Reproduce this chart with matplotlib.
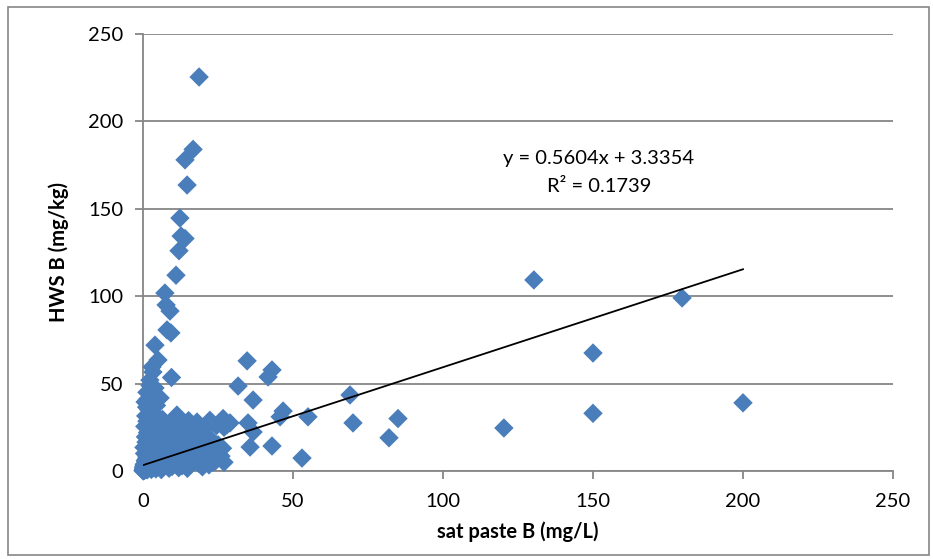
"""
HWS B vs sat paste B scatter with linear trendline
"""

import matplotlib
matplotlib.use('Agg')
import matplotlib.pyplot as plt
from matplotlib.patches import Rectangle
import numpy as np

plt.rcParams['font.family'] = ['Lato', 'DejaVu Sans']

# outlying points
x_out = [18.7, 16.7, 14.0, 14.7, 12.3, 12.7, 14.0, 12.0, 11.0, 7.3, 7.7, 9.0, 8.0, 9.3,
         4.0, 5.0, 3.3, 9.5, 2.3, 5.7, 2.0, 3.0, 2.3, 4.0, 1.3, 0.7,
         130.3, 179.7, 150.0, 150.0, 200.0, 120.3, 82.0, 85.0, 70.0, 69.0, 55.0, 53.0,
         34.7, 43.0, 41.7, 31.7, 36.7, 35.0, 46.7, 45.7, 36.7, 35.7, 43.0]
y_out = [225.4, 184.0, 178.0, 163.6, 144.7, 134.4, 133.0, 126.0, 112.0, 101.8, 95.0, 91.5, 80.7, 79.0,
         72.0, 63.5, 56.6, 53.5, 49.0, 41.8, 37.8, 59.5, 52.0, 47.5, 45.0, 39.5,
         109.3, 99.0, 67.5, 33.0, 39.0, 24.6, 19.0, 30.0, 27.5, 43.5, 31.0, 7.4,
         63.0, 57.8, 53.8, 48.6, 40.6, 27.5, 34.3, 31.0, 22.3, 13.7, 14.3]

# dense cluster near the origin (approximate)
x_clu = [0.1, 0.2, 0.3, 0.4, 0.5, 0.6, 0.7, 0.8, 0.9, 1.0, 1.1, 1.2, 1.3, 1.4, 1.5, 1.6, 1.7, 1.8, 1.9, 2.0,
         2.1, 2.2, 2.3, 2.4, 2.5, 2.6, 2.7, 2.8, 2.9, 3.0, 3.2, 3.4, 3.6, 3.8, 4.0, 4.2, 4.4, 4.6, 4.8, 5.0,
         5.2, 5.4, 5.6, 5.8, 6.0, 6.2, 6.4, 6.6, 6.8, 7.0, 7.3, 7.6, 7.9, 8.2, 8.5, 8.8, 9.1, 9.4, 9.7, 10.0,
         10.3, 10.6, 10.9, 11.2, 11.5, 11.8, 12.1, 12.4, 12.7, 13.0, 13.4, 13.8, 14.2, 14.6, 15.0, 15.4, 15.8,
         16.2, 16.6, 17.0, 17.5, 18.0, 18.5, 19.0, 19.5, 20.0, 20.5, 21.0, 21.5, 22.0, 22.5, 23.0, 24.0, 25.0,
         26.0, 27.0, 28.0, 24.5, 26.5, 29.0,
         0.05, 0.1, 0.15, 0.2, 0.25, 0.3, 0.35, 0.4, 0.5, 0.6, 0.7, 0.8, 0.9, 1.0, 1.2, 1.4, 1.6, 1.8, 2.0, 2.2,
         2.5, 2.8, 3.1, 3.5, 3.9, 4.3, 4.7, 5.1, 5.5, 6.1, 6.7, 7.4, 8.0, 8.7, 9.5, 10.2, 11.0, 11.9, 12.8, 13.7,
         14.8, 15.6, 16.5, 17.8, 18.8, 19.8, 20.8, 21.8, 23.5, 24.8, 22.2, 19.2, 15.2, 12.2, 9.2, 6.5, 3.3, 1.0,
         0.5, 0.8, 0.3, 1.5, 0.6, 1.3, 0.9, 2.0, 1.5, 3.0, 2.2, 1.2, 4.5,
         11.3, 18.0, 22.3, 26.7, 23.3, 27.0]
y_clu = [0.5, 1.2, 2.0, 0.8, 3.1, 1.5, 4.2, 2.6, 5.5, 0.9, 6.8, 3.4, 8.1, 2.2, 9.6, 4.8, 11.2, 1.4, 7.3, 13.0,
         3.0, 15.5, 5.9, 18.0, 2.5, 10.2, 21.0, 6.6, 24.5, 1.8, 12.4, 8.8, 28.0, 4.1, 16.3, 2.9, 31.0, 9.4, 20.5, 5.2,
         13.8, 26.3, 3.6, 17.7, 7.9, 11.0, 22.6, 2.1, 14.9, 6.1, 19.2, 9.9, 3.3, 25.0, 12.0, 5.0, 16.8, 8.2, 2.6, 21.5,
         13.3, 6.9, 28.5, 10.5, 4.0, 18.5, 8.0, 24.0, 14.0, 3.0, 20.0, 11.5, 6.0, 26.5, 16.0, 9.0, 3.8,
         22.0, 13.0, 7.0, 19.0, 25.5, 4.5, 14.5, 9.5, 21.0, 6.5, 12.5, 17.0, 3.5, 27.0, 10.0, 5.5, 15.0,
         8.5, 25.0, 26.5, 26.0, 13.0, 27.5,
         0.1, 0.3, 1.0, 0.2, 2.5, 0.6, 1.8, 3.8, 0.4, 2.9, 1.1, 6.0, 3.6, 1.9, 5.1, 0.7, 8.9, 4.4, 2.8, 7.0,
         11.8, 0.9, 5.7, 14.2, 7.6, 1.2, 11.7, 23.5, 9.0, 0.8, 18.3, 4.6, 15.3, 1.6, 11.4, 3.9, 15.6, 1.9, 10.8, 17.3,
         1.5, 12.2, 5.3, 10.7, 16.2, 2.4, 8.8, 13.9, 7.8, 11.2, 18.8, 23.0, 28.8, 29.5, 27.0, 29.5, 33.5, 16.5,
         10.0, 19.5, 13.5, 22.0, 25.5, 28.5, 31.5, 35.0, 41.0, 44.0, 46.0, 36.5, 37.5,
         32.0, 28.0, 29.0, 30.0, 5.2, 5.0]

x_vals = x_clu + x_out
y_vals = y_clu + y_out

# trendline as printed on the chart
slope, intercept = 0.5604, 3.3354
x_fit = np.array([0, 200])

fig = plt.figure(figsize=(9.33, 5.59), dpi=100)
ax = fig.add_axes([143/933, 1 - 471/559, 750/933, 437/559])

ax.scatter(x_vals, y_vals, marker='D', s=98, color='#4a7ebb', edgecolors='none', zorder=3, clip_on=False)
ax.plot(x_fit, slope * x_fit + intercept, color='black', lw=1.3, zorder=4)

ax.text(152, 179, 'y = 0.5604x + 3.3354', ha='center', va='center', fontsize=14.5)
ax.text(152, 163, 'R² = 0.1739', ha='center', va='center', fontsize=14.5)

ax.set_xlim(0, 250)
ax.set_ylim(0, 250)
ax.set_xticks(range(0, 251, 50))
ax.set_yticks(range(0, 251, 50))
ax.grid(axis='y', color='#868686', lw=1.3)
ax.set_axisbelow(True)
for side in ['top', 'right']:
    ax.spines[side].set_visible(False)
for side in ['left', 'bottom']:
    ax.spines[side].set_color('#868686')
    ax.spines[side].set_linewidth(1.3)
ax.tick_params(colors='#868686', labelcolor='black', labelsize=14.5, length=6, width=1.3)
ax.tick_params(axis='x', pad=10)
ax.tick_params(axis='y', pad=8)

ax.set_xlabel('sat paste B (mg/L)', fontsize=14.5, fontweight='bold', labelpad=8)
ax.set_ylabel('HWS B (mg/kg)', fontsize=14.5, fontweight='bold', labelpad=14)

# outer chart frame
fig.patches.append(Rectangle((8/933, 4/559), 921/933, 548/559, transform=fig.transFigure,
                             fill=False, edgecolor='#868686', lw=1.2))

fig.savefig('out.png', dpi=100)
